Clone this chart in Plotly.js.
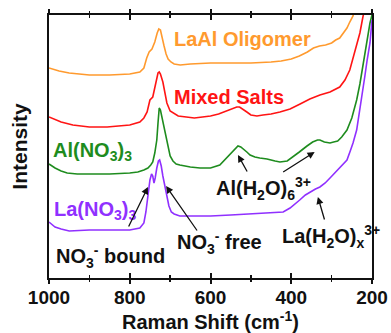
<!DOCTYPE html>
<html>
<head>
<meta charset="utf-8">
<script src="https://cdn.plot.ly/plotly-3.0.1.min.js"></script>
<style>html,body{margin:0;padding:0;background:#fff;}#chart{width:391px;height:333px;}</style>
</head>
<body>
<div id="chart"></div>
<script>
// Raman shift (cm-1) and intensity (arbitrary units, stacked offsets as in the figure)
const laalShift = [1000, 975, 950, 900, 850, 800, 775, 765, 758, 752, 745, 738, 732, 728, 724, 720, 715, 710, 705, 698, 690, 675, 650, 600, 550, 500, 450, 425, 400, 380, 360, 345, 330, 315, 300, 290, 280, 270, 262, 255, 247, 240];
const laalInt   = [210, 207, 205, 203, 203, 204, 206, 210, 220, 226, 229, 236, 245, 249, 248, 242, 232, 224, 219, 216, 214, 213, 214, 215, 215, 215, 216, 217, 219, 222, 226, 230, 232, 233, 235, 238, 240, 245, 250, 256, 262, 272];

const mixedShift = [1000, 970, 941, 900, 856, 800, 775, 765, 757, 750, 743, 737, 733, 730, 727, 724, 718, 713, 708, 700, 693, 680, 660, 640, 620, 600, 580, 560, 545, 535, 528, 520, 510, 500, 485, 470, 450, 428, 403, 378, 354, 329, 304, 280, 267, 255, 245, 238, 230, 223, 218];
const mixedInt   = [161, 156, 153, 151, 151, 153, 156, 160, 166, 178, 181, 192, 201, 205, 206, 204, 196, 185, 175, 167, 165, 162, 161, 160, 161, 162, 164, 167, 170, 171, 171, 169, 166, 163, 162, 163, 164, 166, 169, 174, 179, 183, 186, 191, 198, 208, 222, 233, 245, 260, 270];

const alShift = [1000, 985, 970, 955, 930, 900, 850, 800, 780, 765, 755, 748, 743, 738, 733, 730, 727, 724, 720, 716, 712, 706, 700, 693, 685, 676, 650, 626, 600, 577, 565, 552, 542, 532, 525, 518, 510, 502, 490, 478, 460, 440, 428, 410, 396, 380, 361, 347, 335, 329, 318, 304, 295, 285, 275, 262, 250, 238, 230, 223, 216, 210, 205, 200];
const alInt   = [114, 110, 107, 105, 104, 104, 104, 105, 106, 108, 110, 113, 116, 125, 138, 155, 170, 168, 160, 152, 145, 132, 122, 117, 114, 113, 111, 110, 110, 113, 118, 123, 128, 132, 131, 129, 126, 123, 121, 120, 119, 117, 116, 117, 121, 126, 132, 136, 138, 138, 136, 135, 136, 137, 141, 148, 160, 178, 194, 211, 228, 245, 255, 263];

const laShift = [1000, 985, 970, 950, 900, 850, 800, 775, 765, 760, 755, 750, 746, 743, 740, 737, 733, 729, 726, 722, 718, 713, 708, 703, 697, 690, 676, 650, 626, 600, 550, 500, 450, 420, 403, 390, 379, 365, 354, 340, 329, 316, 304, 292, 280, 270, 262, 253, 247, 238, 230, 224, 218, 212, 205, 200];
const laInt   = [56, 51, 49, 47, 48, 48, 48, 50, 55, 66, 85, 98, 104, 102, 95, 100, 110, 117, 118, 112, 102, 92, 81, 72, 66, 64, 62, 62, 62, 62, 63, 64, 65, 66, 70, 74, 78, 83, 86, 89, 91, 95, 100, 105, 110, 114, 118, 128, 135, 148, 168, 185, 201, 218, 235, 258];

const seriesNames  = ["LaAl Oligomer", "Mixed Salts", "Al(NO<sub>3</sub>)<sub>3</sub>", "La(NO<sub>3</sub>)<sub>3</sub>"];
const seriesColors = ["#FF9A2E", "#FF1414", "#1E8C1E", "#9030FF"];
const xTickVals = [1000, 800, 600, 400, 200];

const FONT = "Liberation Sans, Arial, sans-serif";
const shifts = [laalShift, mixedShift, alShift, laShift];
const ints = [laalInt, mixedInt, alInt, laInt];

const traces = shifts.map((s, i) => ({
  type: "scatter", mode: "lines", x: s, y: ints[i], name: seriesNames[i],
  line: {color: seriesColors[i], width: 1.6}, cliponaxis: true, hoverinfo: "skip"
}));

function label(text, x, y, color) {
  return {text: text, x: x, y: y, xref: "x", yref: "y", xanchor: "left", yanchor: "middle",
    showarrow: false, font: {family: FONT, size: 20, color: color, weight: "bold"}};
}
function arrow(x, y, ax, ay) {
  return {text: "", x: x, y: y, xref: "x", yref: "y", ax: ax, ay: ay, showarrow: true,
    arrowhead: 2, arrowsize: 1.1, arrowwidth: 1.3, arrowcolor: "#111"};
}

const annotations = [
  label(seriesNames[0], 695, 239, seriesColors[0]),
  label(seriesNames[1], 695, 181, seriesColors[1]),
  label(seriesNames[2], 995, 127, seriesColors[2]),
  label(seriesNames[3], 992, 68, seriesColors[3]),
  label("NO<sub>3</sub><sup>-</sup> bound", 987, 22, "#111"),
  label("NO<sub>3</sub><sup>-</sup> free", 688, 36, "#111"),
  label("Al(H<sub>2</sub>O)<sub>6</sub><sup>3+</sup>", 592, 90, "#111"),
  label("La(H<sub>2</sub>O)<sub>x</sub><sup>3+</sup>", 428, 42, "#111"),
  arrow(755, 91, -20, 41),
  arrow(710, 92, 32, 46),
  arrow(532, 123, 10, 18),
  arrow(342, 126, -33, 21),
  arrow(334, 81, 7, 24)
];

const layout = {
  width: 391, height: 333,
  margin: {l: 49, r: 19, t: 15, b: 55},
  paper_bgcolor: "#fff", plot_bgcolor: "#fff",
  showlegend: false,
  font: {family: FONT, color: "#111"},
  xaxis: {
    range: [1000, 200], tickvals: xTickVals, ticktext: xTickVals.map(String),
    ticks: "inside", ticklen: 5, tickwidth: 2, tickcolor: "#111",
    minor: {dtick: 100, ticks: "inside", ticklen: 3, tickwidth: 1.5, tickcolor: "#111"},
    showline: true, linewidth: 2, linecolor: "#111", mirror: "allticks",
    showgrid: false, zeroline: false,
    tickfont: {family: FONT, size: 19, weight: "bold", color: "#111"},
    ticklabelstandoff: 1,
    title: {text: "Raman Shift (cm<sup>-1</sup>)", font: {family: FONT, size: 20, weight: "bold", color: "#111"}, standoff: 7}
  },
  xaxis2: {
    range: [1000, 200], overlaying: "x", anchor: "y", tickvals: xTickVals,
    showticklabels: false, ticks: "outside", ticklen: 5, tickwidth: 2, tickcolor: "#111",
    minor: {dtick: 100, ticks: "outside", ticklen: 3, tickwidth: 1.5, tickcolor: "#111"},
    mirror: "allticks", showline: false, showgrid: false, zeroline: false
  },
  yaxis: {
    range: [0, 263], showticklabels: false, ticks: "",
    showline: true, linewidth: 2, linecolor: "#111", mirror: true,
    showgrid: false, zeroline: false,
    title: {text: "Intensity", font: {family: FONT, size: 21, weight: "bold", color: "#111"}, standoff: 14}
  },
  annotations: annotations
};

// invisible trace so the overlay axis (outer tick halves) is drawn
traces.push({type: "scatter", mode: "lines", x: [1000, 200], y: [null, null], xaxis: "x2", yaxis: "y", hoverinfo: "skip", showlegend: false});

Plotly.newPlot("chart", traces, layout, {staticPlot: true, displayModeBar: false});
</script>
</body>
</html>
